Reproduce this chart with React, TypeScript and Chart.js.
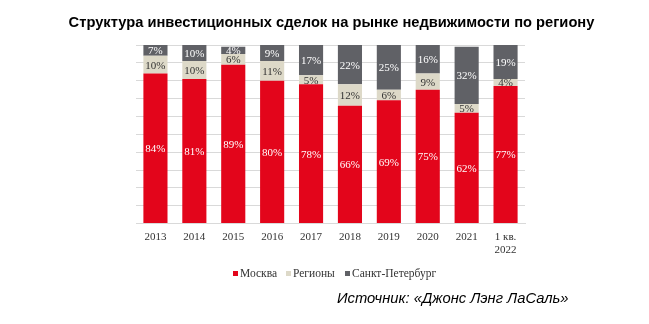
import React, { useEffect, useRef } from "react";
import { Chart, registerables } from "chart.js";

Chart.register(...registerables);

const categories: (string | string[])[] = ["2013", "2014", "2015", "2016", "2017", "2018", "2019", "2020", "2021", ["1 кв.", "2022"]];
const moscow = [84, 81, 89, 80, 78, 66, 69, 75, 62, 77];
const regions = [10, 10, 6, 11, 5, 12, 6, 9, 5, 4];
const spb = [7, 10, 4, 9, 17, 22, 25, 16, 32, 19];
const seriesNames = ["Москва", "Регионы", "Санкт-Петербург"];
const titleText = "Структура инвестиционных сделок на рынке недвижимости по региону";
const sourceText = "Источник: «Джонс Лэнг ЛаСаль»";

const COLORS = ["#E3051B", "#DDD9C8", "#606166"];
const LABEL_COLORS = ["#FFFFFF", "#333333", "#FFFFFF"];
const LEGEND_X = [233, 286, 345];

const labelPlugin = {
  id: "segLabels",
  afterDatasetsDraw(chart: any) {
    const ctx = chart.ctx;
    const area = chart.chartArea;
    ctx.save();
    ctx.font = "11px 'Liberation Serif'";
    ctx.textAlign = "center";
    ctx.textBaseline = "middle";
    chart.data.datasets.forEach((ds: any, di: number) => {
      const meta = chart.getDatasetMeta(di);
      meta.data.forEach((el: any, i: number) => {
        const top = Math.max(el.y, area.top);
        const yc = (top + el.base) / 2;
        ctx.fillStyle = LABEL_COLORS[di];
        ctx.fillText(ds.data[i] + "%", el.x, yc + 1);
      });
    });
    ctx.restore();
  },
};

export default function App() {
  const ref = useRef<HTMLCanvasElement>(null);
  useEffect(() => {
    document.body.style.margin = "0";
    const chart = new Chart(ref.current!, {
      type: "bar",
      data: {
        labels: categories as any,
        datasets: [moscow, regions, spb].map((d, i) => ({
          label: seriesNames[i],
          data: d,
          backgroundColor: COLORS[i],
          borderWidth: 0,
          categoryPercentage: 1,
          barPercentage: 0.62,
        })),
      },
      options: {
        responsive: false,
        animation: false,
        layout: { padding: { left: 136, right: 124, top: 45, bottom: 60 } },
        scales: {
          x: {
            stacked: true,
            grid: { display: false, drawTicks: false },
            border: { display: true, color: "#D9D9D9" },
            ticks: { color: "#333", font: { family: "'Liberation Serif'", size: 11 }, padding: 7, maxRotation: 0 },
          },
          y: {
            stacked: true,
            min: 0,
            max: 100,
            ticks: { display: false, stepSize: 10 },
            grid: { color: "#D9D9D9", drawTicks: false },
            border: { display: false },
          },
        },
        plugins: {
          legend: { display: false },
          tooltip: { enabled: false },
        },
      },
      plugins: [labelPlugin],
    });
    return () => chart.destroy();
  }, []);
  return (
    <div style={{ position: "relative", width: 649, height: 324, background: "#fff", overflow: "hidden" }}>
      <canvas ref={ref} width={649} height={324} style={{ position: "absolute", left: 0, top: 0 }} />
      <div
        style={{
          position: "absolute",
          left: 7,
          top: 14,
          width: 649,
          textAlign: "center",
          fontFamily: "'Liberation Sans', Arial, sans-serif",
          fontWeight: "bold",
          fontSize: 14.7,
          lineHeight: "17px",
          color: "#000",
          whiteSpace: "nowrap",
        }}
      >
        {titleText}
      </div>
      {seriesNames.map((name, i) => (
        <div
          key={name}
          style={{
            position: "absolute",
            left: LEGEND_X[i],
            top: 266,
            height: 14,
            display: "flex",
            alignItems: "center",
            fontFamily: "'Liberation Serif', serif",
            fontSize: 11.5,
            color: "#333",
            whiteSpace: "nowrap",
          }}
        >
          <span style={{ display: "inline-block", width: 5, height: 5, background: COLORS[i], marginRight: 2 }} />
          <span>{name}</span>
        </div>
      ))}
      <div
        style={{
          position: "absolute",
          left: 337,
          top: 290,
          fontFamily: "'Liberation Sans', Arial, sans-serif",
          fontStyle: "italic",
          fontSize: 14.75,
          color: "#000",
          whiteSpace: "nowrap",
        }}
      >
        {sourceText}
      </div>
    </div>
  );
}
